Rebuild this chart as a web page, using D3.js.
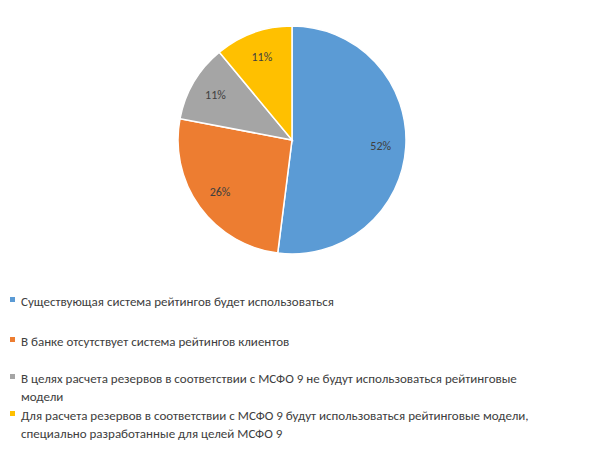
<!DOCTYPE html>
<html><head><meta charset="utf-8">
<script src="https://cdn.jsdelivr.net/npm/d3@7"></script>
<style>body{margin:0;background:#fff}</style></head>
<body><svg id="c" width="589" height="450"></svg>
<script>
const categories = [
  "Существующая система рейтингов будет использоваться",
  "В банке отсутствует система рейтингов клиентов",
  "В целях расчета резервов в соответствии с МСФО 9 не будут использоваться рейтинговые|модели",
  "Для расчета резервов в соответствии с МСФО 9 будут использоваться рейтинговые модели,|специально разработанные для целей МСФО 9"
];
const values = [52, 26, 11, 11];
const colors = ["#5b9bd5", "#ed7d31", "#a5a5a5", "#ffc000"];

const svg = d3.select("#c");
const cx = 292, cy = 140, r = 114;
const pie = d3.pie().sort(null).value(d => d)(values);
const arc = d3.arc().innerRadius(0).outerRadius(r);
const g = svg.append("g").attr("transform", `translate(${cx},${cy})`);
g.selectAll("path").data(pie).enter().append("path")
  .attr("d", arc).attr("fill", (d, i) => colors[i])
  .attr("stroke", "#fff").attr("stroke-width", 1.5);
const lab = d3.arc().innerRadius(r * 0.78).outerRadius(r * 0.78);
g.selectAll("text").data(pie).enter().append("text")
  .attr("transform", d => `translate(${lab.centroid(d)})`)
  .attr("text-anchor", "middle").attr("dy", "0.35em")
  .attr("font-family", "Calibri, Carlito, 'Liberation Sans', sans-serif")
  .attr("font-size", 12).attr("fill", "#404040")
  .text(d => d.value + "%");

const ys = [301, 341, 378, 415];
const lg = svg.append("g");
categories.forEach((c, i) => {
  lg.append("rect").attr("x", 10).attr("y", ys[i] - 4).attr("width", 5).attr("height", 5).attr("fill", colors[i]);
  c.split("|").forEach((line, j) => {
    lg.append("text").attr("x", 21).attr("y", ys[i] + j * 18).attr("dy", "0.35em")
      .attr("font-family", "Calibri, Carlito, 'Liberation Sans', sans-serif")
      .attr("font-size", 13).attr("fill", "#404040").text(line);
  });
});
</script></body></html>
